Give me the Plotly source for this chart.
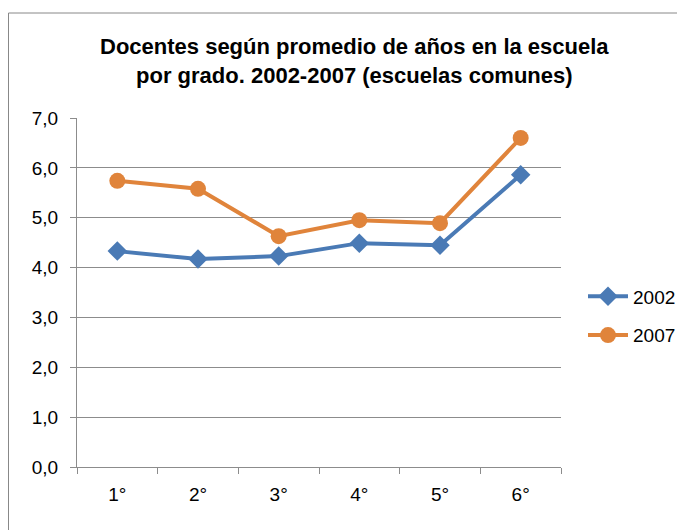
import plotly.graph_objects as go

categories = ["1°", "2°", "3°", "4°", "5°", "6°"]
values_2002 = [4.33, 4.17, 4.23, 4.49, 4.45, 5.86]
values_2007 = [5.74, 5.58, 4.63, 4.95, 4.89, 6.60]
y_ticks = [0, 1, 2, 3, 4, 5, 6, 7]

BLUE = "#4a7ab5"
ORANGE = "#e0843b"
GRID = "#8c8c8c"

OFF = 8  # page body margin
W, H = 685, 530
# plot area in target pixel coordinates
PX0, PX1, PY0, PY1 = 77, 561, 118, 467
pw, ph = PX1 - PX0, PY1 - PY0
L, T = PX0 - OFF, PY0 - OFF
R, B = W - L - pw, H - T - ph

fig = go.Figure()
fig.add_trace(go.Scatter(
    x=categories, y=values_2002, name="2002", mode="lines+markers",
    line=dict(color=BLUE, width=4),
    marker=dict(symbol="diamond", size=15, color=BLUE),
    legendgroup="a",
))
fig.add_trace(go.Scatter(
    x=categories, y=values_2007, name="2007", mode="lines+markers",
    line=dict(color=ORANGE, width=4),
    marker=dict(symbol="circle", size=16, color=ORANGE),
    legendgroup="b",
))


def px_x(p):
    return (p - PX0) / pw


def px_y(p):
    return (PY1 - p) / ph


fig.update_layout(
    width=W, height=H,
    margin=dict(l=L, r=R, t=T, b=B, pad=0),
    paper_bgcolor="white", plot_bgcolor="white",
    separators=",.",
    font=dict(family="Liberation Sans, Arial, sans-serif", size=19, color="black"),
    showlegend=True,
    legend=dict(
        x=px_x(583), y=px_y(316), xanchor="left", yanchor="middle",
        font=dict(size=19), tracegroupgap=11, itemwidth=40,
        bgcolor="rgba(0,0,0,0)",
    ),
    xaxis=dict(
        type="category", range=[-0.5, 5.5], showgrid=False,
        showline=True, linecolor=GRID, linewidth=1,
        ticks="outside", ticklen=6, tickcolor=GRID, tickson="boundaries",
        tickfont=dict(size=19), ticklabelstandoff=10,
    ),
    yaxis=dict(
        range=[0, 7], tickvals=y_ticks, tickformat=".1f",
        showgrid=True, gridcolor=GRID, gridwidth=1,
        showline=True, linecolor=GRID, linewidth=1,
        ticks="outside", ticklen=6, tickcolor=GRID,
        zeroline=False, tickfont=dict(size=19), ticklabelstandoff=8,
    ),
    shapes=[dict(
        type="rect", xref="paper", yref="paper",
        x0=px_x(8.5), x1=px_x(720), y0=px_y(560), y1=px_y(13),
        line=dict(color="#888888", width=1), fillcolor="rgba(0,0,0,0)", layer="below",
    )],
    annotations=[dict(
        text="<b>Docentes según promedio de años en la escuela<br>por grado. 2002-2007 (escuelas comunes)</b>",
        xref="paper", yref="paper", x=px_x(354), y=px_y(61),
        xanchor="center", yanchor="middle", showarrow=False,
        font=dict(family="Liberation Sans Narrow, Arial Narrow, Liberation Sans, sans-serif", size=22, color="black"),
        align="center",
    )],
)

fig.write_html("out.html")
